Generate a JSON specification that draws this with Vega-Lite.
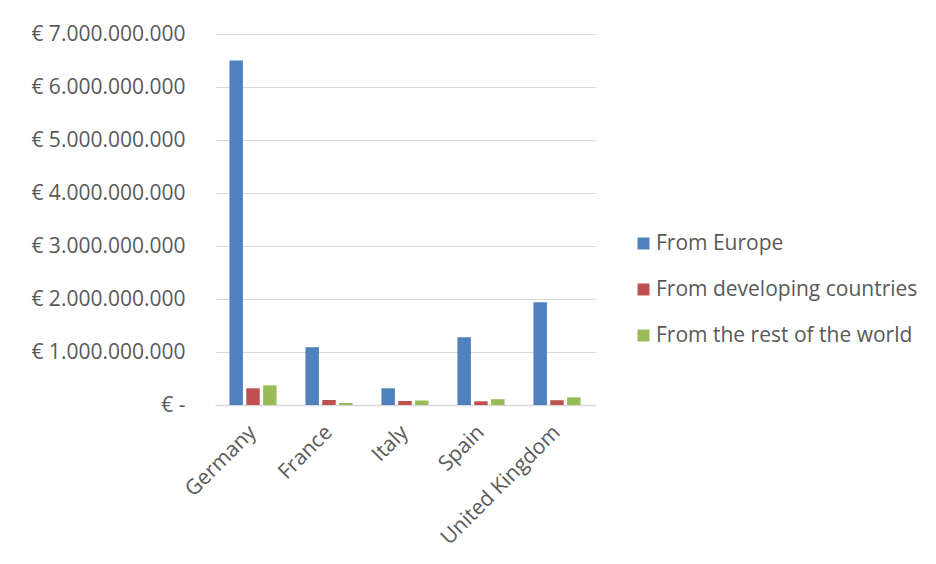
{
  "$schema": "https://vega.github.io/schema/vega-lite/v6.json",
  "width": 380,
  "height": 371,
  "autosize": {"type": "none"},
  "padding": {"left": 215, "top": 34, "right": 341, "bottom": 159},
  "background": "white",
  "data": {
    "values": [
      {"country": "Germany", "source": "From Europe", "value": 6500000000},
      {"country": "Germany", "source": "From developing countries", "value": 315000000},
      {"country": "Germany", "source": "From the rest of the world", "value": 370000000},
      {"country": "France", "source": "From Europe", "value": 1090000000},
      {"country": "France", "source": "From developing countries", "value": 94000000},
      {"country": "France", "source": "From the rest of the world", "value": 40000000},
      {"country": "Italy", "source": "From Europe", "value": 315000000},
      {"country": "Italy", "source": "From developing countries", "value": 75000000},
      {"country": "Italy", "source": "From the rest of the world", "value": 85000000},
      {"country": "Spain", "source": "From Europe", "value": 1280000000},
      {"country": "Spain", "source": "From developing countries", "value": 70000000},
      {"country": "Spain", "source": "From the rest of the world", "value": 110000000},
      {"country": "United Kingdom", "source": "From Europe", "value": 1940000000},
      {"country": "United Kingdom", "source": "From developing countries", "value": 90000000},
      {"country": "United Kingdom", "source": "From the rest of the world", "value": 145000000}
    ]
  },
  "mark": {"type": "bar"},
  "encoding": {
    "x": {
      "field": "country",
      "type": "nominal",
      "sort": ["Germany", "France", "Italy", "Spain", "United Kingdom"],
      "scale": {"paddingInner": 0.38, "paddingOuter": 0.19},
      "axis": {
        "title": null,
        "labelAngle": -45,
        "labelAlign": "right",
        "labelBaseline": "middle",
        "labelPadding": 24,
        "ticks": false,
        "domain": true,
        "domainColor": "#D9D9D9",
        "domainWidth": 1.5,
        "grid": false
      }
    },
    "xOffset": {
      "field": "source",
      "type": "nominal",
      "sort": ["From Europe", "From developing countries", "From the rest of the world"],
      "scale": {"paddingInner": 0.2}
    },
    "y": {
      "field": "value",
      "type": "quantitative",
      "scale": {"domain": [0, 7000000000], "nice": false},
      "axis": {
        "title": null,
        "values": [0, 1000000000, 2000000000, 3000000000, 4000000000, 5000000000, 6000000000, 7000000000],
        "labelExpr": "datum.value == 0 ? '€ -' : '€ ' + replace(format(datum.value, ','), regexp(',', 'g'), '.')",
        "labelPadding": 30,
        "ticks": false,
        "domain": false,
        "grid": true,
        "gridColor": "#D9D9D9",
        "gridWidth": 1
      }
    },
    "color": {
      "field": "source",
      "type": "nominal",
      "sort": ["From Europe", "From developing countries", "From the rest of the world"],
      "scale": {
        "domain": ["From Europe", "From developing countries", "From the rest of the world"],
        "range": ["#4F81BD", "#C0504D", "#9BBB59"]
      },
      "legend": {
        "title": null,
        "orient": "none",
        "legendX": 418,
        "legendY": 199,
        "symbolType": "square",
        "symbolSize": 144,
        "symbolStrokeWidth": 0,
        "labelOffset": 2,
        "rowPadding": 24
      }
    }
  },
  "config": {
    "view": {"stroke": null},
    "font": "Open Sans",
    "axis": {
      "labelFont": "Open Sans",
      "labelFontSize": 21,
      "labelColor": "#595959"
    },
    "legend": {
      "labelFont": "Open Sans",
      "labelFontSize": 21,
      "labelColor": "#595959",
      "labelLimit": 400
    }
  }
}
